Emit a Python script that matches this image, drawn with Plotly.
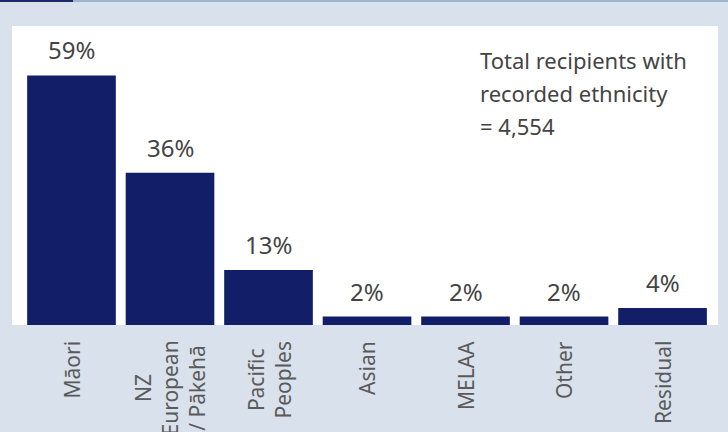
import plotly.graph_objects as go

categories = ["Māori", "NZ<br>European<br>/ Pākehā", "Pacific<br>Peoples", "Asian", "MELAA", "Other", "Residual"]
values = [59, 36, 13, 2, 2, 2, 4]
value_labels = ["59%", "36%", "13%", "2%", "2%", "2%", "4%"]
note_lines = ["Total recipients with", "recorded ethnicity", "= 4,554"]

BG = "#d9e1ec"
BAR = "#131e69"
FONT = "Noto Sans"

W, H = 728, 432
L, R, T, B = 12, 10, 26, 107
pw, ph = W - L - R, H - T - B

def px_x(x):
    return (x - L) / pw

def px_y(y):
    return (H - B - y) / ph

xs = list(range(len(categories)))

fig = go.Figure(go.Bar(
    x=xs, y=values, marker=dict(color=BAR, line=dict(width=0)),
    hoverinfo="skip",
))

for x, v, t in zip(xs, values, value_labels):
    fig.add_annotation(x=x, y=v, text=t, showarrow=False, yanchor="bottom",
                       yshift=7, font=dict(family=FONT, size=24, color="#444444"))

# category labels, rotated, centred lines
for x, c in zip(xs, categories):
    fig.add_annotation(x=x, y=0, text=c, showarrow=False, textangle=-90,
                       xanchor="center", yanchor="top", yshift=-14, align="center",
                       font=dict(family=FONT, size=21, color="#5a5a5a"))

for i, line in enumerate(note_lines):
    fig.add_annotation(xref="paper", yref="paper", x=px_x(478), y=px_y(60 + 33 * i),
                       text=line, showarrow=False, xanchor="left", yanchor="middle",
                       font=dict(family=FONT, size=22, color="#444444"))

fig.add_shape(type="rect", xref="paper", yref="paper", x0=px_x(0), x1=px_x(73),
              y0=px_y(2), y1=px_y(0), fillcolor="#1f2a6b", line=dict(width=0), layer="above")
fig.add_shape(type="rect", xref="paper", yref="paper", x0=px_x(73), x1=px_x(728),
              y0=px_y(2), y1=px_y(0), fillcolor="#9db5cf", line=dict(width=0), layer="above")

fig.update_layout(
    width=W, height=H, margin=dict(l=L, r=R, t=T, b=B),
    paper_bgcolor=BG, plot_bgcolor="white", bargap=0.1, showlegend=False,
    xaxis=dict(tickmode="array", tickvals=xs, ticktext=categories,
               showticklabels=False, range=[-0.604, 6.563], showgrid=False,
               zeroline=False, showline=False, ticks=""),
    yaxis=dict(range=[0, 70.7], visible=False, showgrid=False, zeroline=False),
)

fig.write_html("out.html", config={"displayModeBar": False},
               post_script="document.body.style.margin='0';")
